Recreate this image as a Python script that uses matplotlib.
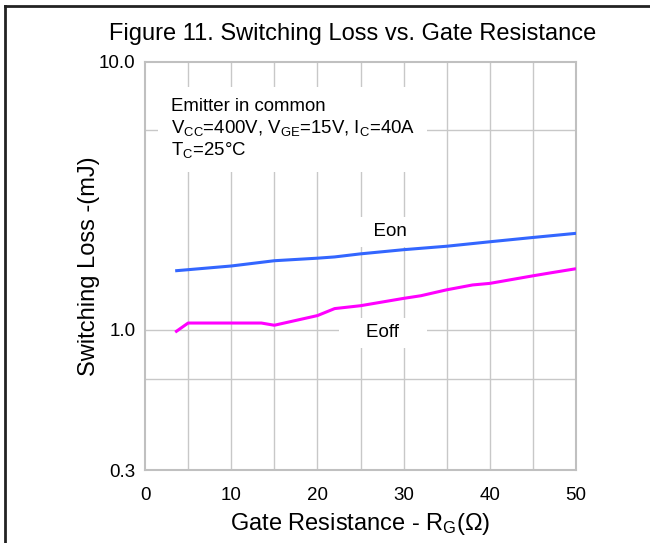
import matplotlib
matplotlib.use("Agg")
import matplotlib.pyplot as plt
from matplotlib.lines import Line2D
from matplotlib.ticker import FixedLocator, NullLocator

plt.rcParams['font.family'] = ['Liberation Sans', 'DejaVu Sans']
plt.rcParams['mathtext.fontset'] = 'custom'
plt.rcParams['mathtext.rm'] = 'Liberation Sans'
plt.rcParams['mathtext.it'] = 'Liberation Sans'

# switching loss curves (mJ) against gate resistance (ohm)
rg_on = [3.5, 10, 15, 20, 22, 25, 30, 35, 40, 45, 50]
eon = [1.66, 1.73, 1.81, 1.85, 1.87, 1.92, 1.99, 2.05, 2.13, 2.21, 2.29]

rg_off = [3.5, 5, 10, 13.5, 15, 20, 22, 25, 30, 32, 35, 38, 40, 45, 47, 50]
eoff = [0.98, 1.06, 1.06, 1.06, 1.04, 1.13, 1.20, 1.23, 1.31, 1.34, 1.41, 1.47, 1.49, 1.59, 1.63, 1.69]

x_ticks = [0, 10, 20, 30, 40, 50]
x_grid = [0, 5, 10, 15, 20, 25, 30, 35, 40, 45, 50]
y_ticks = [0.3, 1.0, 10.0]
y_tick_labels = ["0.3", "1.0", "10.0"]
y_grid = [0.655, 1.0, 5.56]

fig = plt.figure(figsize=(6.5, 5.43), dpi=100)
ax = fig.add_axes([0.2231, 0.1344, 0.6631, 0.752])

ax.set_yscale('log')
ax.set_xlim(0, 50)
ax.set_ylim(0.3, 10.0)

for xv in x_grid[1:-1]:
    ax.axvline(xv, color='#c8c8c8', lw=1.0, zorder=1)
for yv in y_grid:
    ax.axhline(yv, color='#c8c8c8', lw=1.0, zorder=1)

ax.plot(rg_on, eon, color='#3366ff', lw=2.2, zorder=4, solid_capstyle='butt')
ax.plot(rg_off, eoff, color='#ff00ff', lw=2.2, zorder=4, solid_capstyle='butt')

ax.xaxis.set_major_locator(FixedLocator(x_ticks))
ax.yaxis.set_major_locator(FixedLocator(y_ticks))
ax.yaxis.set_minor_locator(NullLocator())
ax.set_yticklabels(y_tick_labels)
ax.tick_params(axis='both', length=0, labelsize=13.5)
ax.tick_params(axis='x', pad=12)
ax.tick_params(axis='y', pad=7)

for sp in ax.spines.values():
    sp.set_color('#c0c0c0')
    sp.set_linewidth(1.5)

ax.set_xlabel(r"Gate Resistance - R$_{\rm G}$($\Omega$)", fontsize=17, labelpad=5)
ax.set_ylabel("Switching Loss -(mJ)", fontsize=17, labelpad=-1)
fig.text(0.543, 0.938, "Figure 11. Switching Loss vs. Gate Resistance",
         ha='center', va='center', fontsize=17)

cond = ("Emitter in common\n"
        r"V$_{\rm CC}$=400V, V$_{\rm GE}$=15V, I$_{\rm C}$=40A" "\n"
        r"T$_{\rm C}$=25°C")
ax.text(2.98, 5.6, cond, fontsize=13.4, ha='left', va='center', linespacing=1.15,
        zorder=3, bbox=dict(facecolor='white', edgecolor='none', pad=9))

ax.text(28.4, 2.32, "  Eon  ", fontsize=13.5, ha='center', va='center', zorder=3,
        bbox=dict(facecolor='white', edgecolor='none', boxstyle='square,pad=0.35'))
ax.text(27.6, 0.975, "    Eoff    ", fontsize=13.5, ha='center', va='center', zorder=3,
        bbox=dict(facecolor='white', edgecolor='none', boxstyle='square,pad=0.35'))

# frame lines around the figure
fig.add_artist(Line2D([0.007, 0.007], [0.0, 0.989], color='#222222', lw=2.0))
fig.add_artist(Line2D([0.007, 1.0], [0.989, 0.989], color='#222222', lw=2.0))

fig.savefig("out.png", dpi=100)
